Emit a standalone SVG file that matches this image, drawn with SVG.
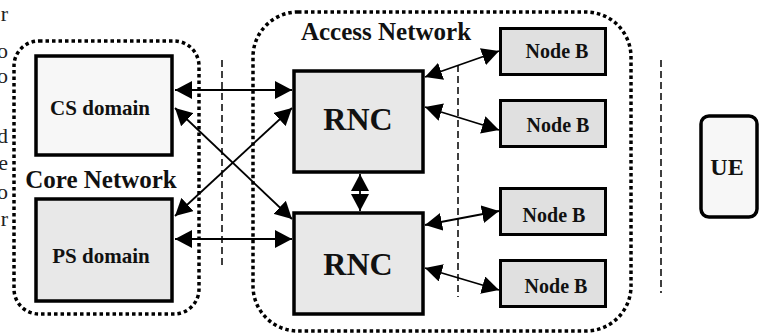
<svg xmlns="http://www.w3.org/2000/svg" width="770" height="334" viewBox="0 0 770 334">
<style>
  .grp { fill: none; stroke: #000; stroke-width: 3.5; stroke-dasharray: 3.5 3; }
  .box { stroke: #000; stroke-width: 3.5; }
  .nb { fill: #e0e0e0; stroke: #000; stroke-width: 3; }
  .lbl { font-family: "Liberation Serif", "Times New Roman", serif; font-weight: bold; fill: #111; text-anchor: middle; }
  .frag { font-family: "Liberation Serif", "Times New Roman", serif; font-size: 22px; fill: #222; text-anchor: end; }
  .sep { stroke: #000; stroke-width: 1.5; stroke-dasharray: 7 4; fill: none; }
  .conn { stroke: #000; stroke-width: 1.8; fill: none; marker-start: url(#ah); marker-end: url(#ah); }
</style>
<defs>
  <marker id="ah" markerUnits="userSpaceOnUse" viewBox="0 0 17 18" markerWidth="17" markerHeight="18" refX="17" refY="9" orient="auto-start-reverse">
    <path d="M0,0 L17,9 L0,18 z" fill="#000"/>
  </marker>
</defs>
<rect width="770" height="334" fill="#fff"/>

<g id="page-fragments">
  <text class="frag" x="8" y="21">r</text>
  <text class="frag" x="8" y="58">o</text>
  <text class="frag" x="8" y="83">o</text>
  <text class="frag" x="8" y="143">d</text>
  <text class="frag" x="8" y="170">e</text>
  <text class="frag" x="8" y="199">o</text>
  <text class="frag" x="8" y="226">r</text>
</g>

<g id="core-network">
  <rect class="grp" x="14" y="41" width="185" height="273" rx="25"/>
  <text class="lbl" x="101" y="188" font-size="25">Core Network</text>
</g>
<g id="access-network">
  <rect class="grp" x="253" y="12" width="378" height="319" rx="45"/>
  <text class="lbl" x="386" y="40" font-size="25">Access Network</text>
</g>

<g id="separators">
  <line class="sep" x1="222" y1="60" x2="222" y2="265"/>
  <line class="sep" x1="458" y1="65" x2="458" y2="297"/>
  <line class="sep" x1="661" y1="60" x2="661" y2="293"/>
</g>

<g id="cs-domain">
  <rect class="box" x="36" y="56" width="136" height="99" fill="#f7f7f7" stroke-width="4"/>
  <text class="lbl" x="100" y="115" font-size="21">CS domain</text>
</g>
<g id="ps-domain">
  <rect class="box" x="36" y="199" width="136" height="102" fill="#e8e8e8" stroke-width="4"/>
  <text class="lbl" x="101" y="263" font-size="21">PS domain</text>
</g>
<g id="rnc1">
  <rect class="box" x="294" y="71" width="129" height="101" fill="#e8e8e8"/>
  <text class="lbl" x="358" y="130" font-size="32">RNC</text>
</g>
<g id="rnc2">
  <rect class="box" x="294" y="213" width="129" height="101" fill="#e8e8e8"/>
  <text class="lbl" x="358" y="275" font-size="32">RNC</text>
</g>
<g id="nodeb1">
  <rect class="nb" x="500.5" y="28.5" width="105" height="46"/>
  <text class="lbl" x="557" y="58" font-size="20">Node B</text>
</g>
<g id="nodeb2">
  <rect class="nb" x="500.5" y="100.5" width="105" height="46"/>
  <text class="lbl" x="558" y="132" font-size="20">Node B</text>
</g>
<g id="nodeb3">
  <rect class="nb" x="500.5" y="188.5" width="105" height="46"/>
  <text class="lbl" x="554" y="222" font-size="20">Node B</text>
</g>
<g id="nodeb4">
  <rect class="nb" x="500.5" y="260.5" width="105" height="46"/>
  <text class="lbl" x="556" y="293" font-size="20">Node B</text>
</g>
<g id="ue">
  <rect class="box" x="701" y="116" width="56" height="101" rx="8" fill="#f7f7f7" stroke-width="4"/>
  <text class="lbl" x="727" y="175" font-size="24">UE</text>
</g>

<g id="connectors">
  <line class="conn" x1="175" y1="90" x2="292" y2="90"/>
  <line class="conn" x1="175" y1="108" x2="292" y2="219"/>
  <line class="conn" x1="175" y1="216" x2="292" y2="108"/>
  <line class="conn" x1="175" y1="239" x2="292" y2="239"/>
  <line class="conn" x1="360" y1="174" x2="360" y2="211"/>
  <line class="conn" x1="425" y1="77" x2="499" y2="51"/>
  <line class="conn" x1="425" y1="107" x2="499" y2="130"/>
  <line class="conn" x1="425" y1="225" x2="499" y2="211"/>
  <line class="conn" x1="425" y1="268" x2="499" y2="290"/>
</g>
</svg>
